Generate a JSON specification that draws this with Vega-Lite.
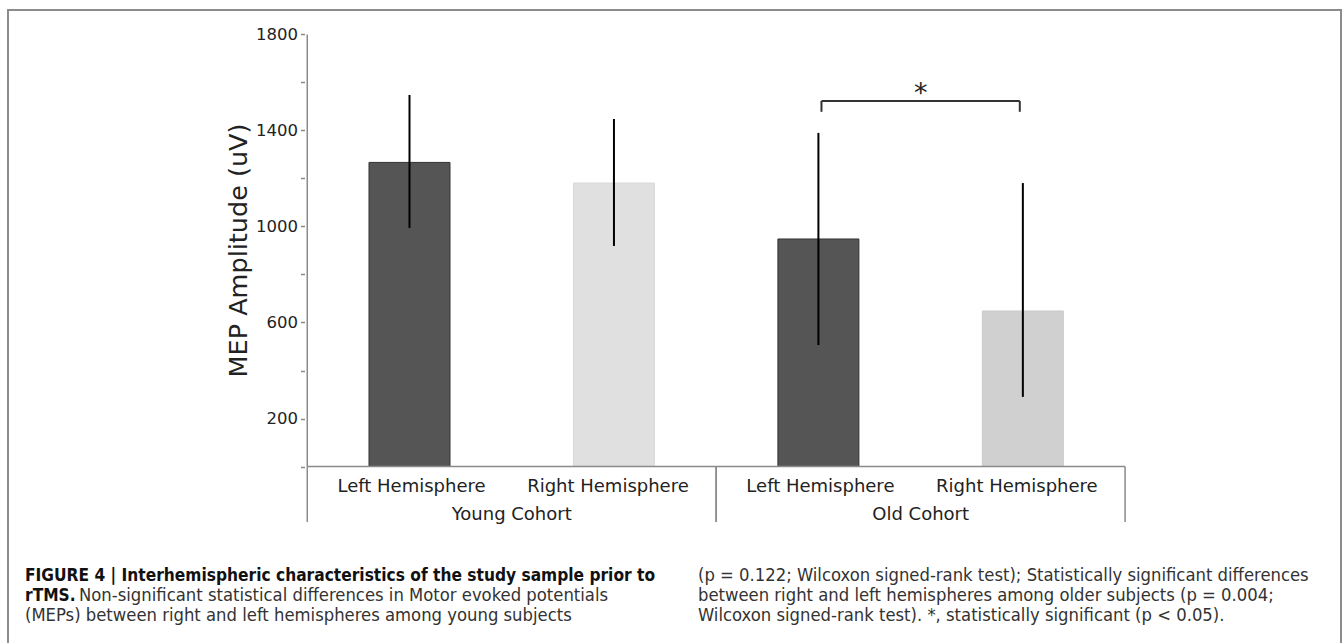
{
  "$schema": "https://vega.github.io/schema/vega-lite/v6.json",
  "width": 1333,
  "height": 640,
  "autosize": {"type": "none"},
  "padding": {"left": 8, "top": 10, "right": 1, "bottom": 0},
  "background": "white",
  "config": {
    "view": {"stroke": "#8c8c8c", "strokeWidth": 2},
    "text": {"font": "DejaVu Sans"}
  },
  "datasets": {
    "bars": [
      {"cohort": "Young Cohort", "hemisphere": "Left Hemisphere", "group": "Young Left", "idx": 1, "mean": 1267, "lo": 994, "hi": 1548},
      {"cohort": "Young Cohort", "hemisphere": "Right Hemisphere", "group": "Young Right", "idx": 2, "mean": 1181, "lo": 919, "hi": 1448},
      {"cohort": "Old Cohort", "hemisphere": "Left Hemisphere", "group": "Old Left", "idx": 3, "mean": 948, "lo": 506, "hi": 1390},
      {"cohort": "Old Cohort", "hemisphere": "Right Hemisphere", "group": "Old Right", "idx": 4, "mean": 648, "lo": 290, "hi": 1181}
    ],
    "groups": [
      {"cohort": "Young Cohort", "start": 0.5, "end": 2.5, "center": 1.5},
      {"cohort": "Old Cohort", "start": 2.5, "end": 4.5, "center": 3.5}
    ],
    "sig": [
      {"from": 3.015, "to": 3.985, "mid": 3.5, "level": 1523, "tick": 1478, "label": "*"}
    ],
    "caption": [
      {"col": 0, "line": 0, "style": "bold", "text": "FIGURE 4 | Interhemispheric characteristics of the study sample prior to"},
      {"col": 0, "line": 1, "style": "bold", "text": "rTMS."},
      {"col": 0, "line": 1, "style": "cont", "text": "Non-significant statistical differences in Motor evoked potentials"},
      {"col": 0, "line": 2, "style": "normal", "text": "(MEPs) between right and left hemispheres among young subjects"},
      {"col": 1, "line": 0, "style": "normal", "text": "(p = 0.122; Wilcoxon signed-rank test); Statistically significant differences"},
      {"col": 1, "line": 1, "style": "normal", "text": "between right and left hemispheres among older subjects (p = 0.004;"},
      {"col": 1, "line": 2, "style": "normal", "text": "Wilcoxon signed-rank test). *, statistically significant (p < 0.05)."}
    ]
  },
  "layer": [
    {
      "layer": [
        {
          "data": {"name": "bars"},
          "mark": {"type": "bar", "size": 81, "strokeWidth": 1},
          "encoding": {
            "x": {"field": "idx", "type": "quantitative", "scale": {"domain": [-0.9393, 5.5316], "nice": false, "zero": false}, "axis": null},
            "y": {
              "field": "mean", "type": "quantitative",
              "scale": {"domain": [-764.58, 1902.08], "nice": false, "zero": false},
              "axis": {
                "orient": "left",
                "offset": -296.5,
                "domain": false,
                "grid": false,
                "values": [0, 200, 400, 600, 800, 1000, 1200, 1400, 1600, 1800],
                "labelExpr": "datum.value % 400 == 200 ? datum.label : ''",
                "format": "d",
                "labelOverlap": false,
                "labelFlush": false,
                "tickSize": 4,
                "tickColor": "#8a8a8a",
                "tickWidth": 1.5,
                "labelPadding": 3,
                "labelFont": "DejaVu Sans",
                "labelFontSize": 16.5,
                "labelColor": "#222222",
                "title": "MEP Amplitude (uV)",
                "titleFont": "DejaVu Sans",
                "titleFontSize": 25.5,
                "titleFontWeight": "normal",
                "titleColor": "#222222",
                "titleAngle": 270,
                "titleAlign": "center",
                "titleBaseline": "middle",
                "titleX": -66,
                "titleY": 240
              }
            },
            "y2": {"datum": 0},
            "fill": {"field": "group", "type": "nominal", "scale": {"domain": ["Young Left", "Young Right", "Old Left", "Old Right"], "range": ["#555555", "#e0e0e0", "#555555", "#d0d0d0"]}, "legend": null},
            "stroke": {"field": "group", "type": "nominal", "scale": {"domain": ["Young Left", "Young Right", "Old Left", "Old Right"], "range": ["#333333", "#d8d8d8", "#333333", "#cacaca"]}, "legend": null}
          }
        },
        {
          "data": {"name": "bars"},
          "mark": {"type": "rule", "color": "#000000", "strokeWidth": 2},
          "encoding": {
            "x": {"field": "idx", "type": "quantitative", "scale": {"domain": [-0.9393, 5.5316], "nice": false, "zero": false}, "axis": null},
            "y": {"field": "lo", "type": "quantitative", "scale": {"domain": [-764.58, 1902.08], "nice": false, "zero": false}},
            "y2": {"field": "hi"}
          }
        },
        {
          "data": {"values": [{}]},
          "mark": {"type": "rule", "color": "#8a8a8a", "strokeWidth": 1.5},
          "encoding": {
            "x": {"datum": 0.5, "type": "quantitative", "scale": {"domain": [-0.9393, 5.5316], "nice": false, "zero": false}, "axis": null},
            "y": {"datum": 1800, "type": "quantitative", "scale": {"domain": [-764.58, 1902.08], "nice": false, "zero": false}},
            "y2": {"datum": 0}
          }
        },
        {
          "data": {"values": [{}]},
          "mark": {"type": "rule", "color": "#8a8a8a", "strokeWidth": 1.5},
          "encoding": {
            "x": {"datum": 0.5, "type": "quantitative", "scale": {"domain": [-0.9393, 5.5316], "nice": false, "zero": false}, "axis": null},
            "x2": {"datum": 4.5},
            "y": {"datum": 0, "type": "quantitative", "scale": {"domain": [-764.58, 1902.08], "nice": false, "zero": false}}
          }
        },
        {
          "data": {"name": "groups"},
          "mark": {"type": "rule", "color": "#8a8a8a", "strokeWidth": 1.5},
          "encoding": {
            "x": {"field": "start", "type": "quantitative", "scale": {"domain": [-0.9393, 5.5316], "nice": false, "zero": false}, "axis": null},
            "y": {"datum": 0, "type": "quantitative", "scale": {"domain": [-764.58, 1902.08], "nice": false, "zero": false}},
            "y2": {"datum": -231}
          }
        },
        {
          "data": {"name": "groups"},
          "mark": {"type": "rule", "color": "#8a8a8a", "strokeWidth": 1.5},
          "encoding": {
            "x": {"field": "end", "type": "quantitative", "scale": {"domain": [-0.9393, 5.5316], "nice": false, "zero": false}, "axis": null},
            "y": {"datum": 0, "type": "quantitative", "scale": {"domain": [-764.58, 1902.08], "nice": false, "zero": false}},
            "y2": {"datum": -231}
          }
        },
        {
          "data": {"name": "bars"},
          "transform": [{"filter": "datum.hemisphere == 'Left Hemisphere'"}],
          "mark": {"type": "text", "align": "center", "baseline": "alphabetic", "dx": 2, "font": "DejaVu Sans", "fontSize": 18, "color": "#222222"},
          "encoding": {
            "x": {"field": "idx", "type": "quantitative", "scale": {"domain": [-0.9393, 5.5316], "nice": false, "zero": false}, "axis": null},
            "y": {"datum": -106.25, "type": "quantitative", "scale": {"domain": [-764.58, 1902.08], "nice": false, "zero": false}},
            "text": {"field": "hemisphere"}
          }
        },
        {
          "data": {"name": "bars"},
          "transform": [{"filter": "datum.hemisphere == 'Right Hemisphere'"}],
          "mark": {"type": "text", "align": "center", "baseline": "alphabetic", "dx": -6, "font": "DejaVu Sans", "fontSize": 18, "color": "#222222"},
          "encoding": {
            "x": {"field": "idx", "type": "quantitative", "scale": {"domain": [-0.9393, 5.5316], "nice": false, "zero": false}, "axis": null},
            "y": {"datum": -106.25, "type": "quantitative", "scale": {"domain": [-764.58, 1902.08], "nice": false, "zero": false}},
            "text": {"field": "hemisphere"}
          }
        },
        {
          "data": {"name": "groups"},
          "mark": {"type": "text", "align": "center", "baseline": "alphabetic", "font": "DejaVu Sans", "fontSize": 18, "color": "#222222"},
          "encoding": {
            "x": {"field": "center", "type": "quantitative", "scale": {"domain": [-0.9393, 5.5316], "nice": false, "zero": false}, "axis": null},
            "y": {"datum": -222.9, "type": "quantitative", "scale": {"domain": [-764.58, 1902.08], "nice": false, "zero": false}},
            "text": {"field": "cohort"}
          }
        },
        {
          "data": {"name": "sig"},
          "mark": {"type": "rule", "color": "#333333", "strokeWidth": 2},
          "encoding": {
            "x": {"field": "from", "type": "quantitative", "scale": {"domain": [-0.9393, 5.5316], "nice": false, "zero": false}, "axis": null},
            "x2": {"field": "to"},
            "y": {"field": "level", "type": "quantitative", "scale": {"domain": [-764.58, 1902.08], "nice": false, "zero": false}}
          }
        },
        {
          "data": {"name": "sig"},
          "mark": {"type": "rule", "color": "#333333", "strokeWidth": 2},
          "encoding": {
            "x": {"field": "from", "type": "quantitative", "scale": {"domain": [-0.9393, 5.5316], "nice": false, "zero": false}, "axis": null},
            "y": {"field": "level", "type": "quantitative", "scale": {"domain": [-764.58, 1902.08], "nice": false, "zero": false}},
            "y2": {"field": "tick"}
          }
        },
        {
          "data": {"name": "sig"},
          "mark": {"type": "rule", "color": "#333333", "strokeWidth": 2},
          "encoding": {
            "x": {"field": "to", "type": "quantitative", "scale": {"domain": [-0.9393, 5.5316], "nice": false, "zero": false}, "axis": null},
            "y": {"field": "level", "type": "quantitative", "scale": {"domain": [-764.58, 1902.08], "nice": false, "zero": false}},
            "y2": {"field": "tick"}
          }
        },
        {
          "data": {"name": "sig"},
          "mark": {"type": "text", "align": "center", "baseline": "alphabetic", "dy": 1, "font": "DejaVu Sans", "fontSize": 27, "color": "#222222"},
          "encoding": {
            "x": {"field": "mid", "type": "quantitative", "scale": {"domain": [-0.9393, 5.5316], "nice": false, "zero": false}, "axis": null},
            "y": {"field": "level", "type": "quantitative", "scale": {"domain": [-764.58, 1902.08], "nice": false, "zero": false}},
            "text": {"field": "label"}
          }
        }
      ]
    },
    {
      "data": {"name": "caption"},
      "encoding": {
        "x": {"field": "col", "type": "quantitative", "scale": {"domain": [-0.02526, 1.9554], "nice": false, "zero": false}, "axis": null},
        "y": {"field": "line", "type": "quantitative", "scale": {"domain": [-28.55, 3.45], "nice": false, "zero": false, "reverse": true}, "axis": null},
        "text": {"field": "text"}
      },
      "layer": [
        {
          "transform": [{"filter": "datum.style == 'bold'"}],
          "mark": {"type": "text", "align": "left", "baseline": "alphabetic", "font": "DejaVu Sans Condensed, DejaVu Sans", "fontSize": 17.2, "fontWeight": "bold", "color": "#111111"}
        },
        {
          "transform": [{"filter": "datum.style == 'normal'"}],
          "mark": {"type": "text", "align": "left", "baseline": "alphabetic", "font": "DejaVu Sans Condensed, DejaVu Sans", "fontSize": 18.3, "color": "#333333"}
        },
        {
          "transform": [{"filter": "datum.style == 'cont'"}],
          "mark": {"type": "text", "align": "left", "baseline": "alphabetic", "dx": 54, "font": "DejaVu Sans Condensed, DejaVu Sans", "fontSize": 18.3, "color": "#333333"}
        }
      ]
    }
  ],
  "resolve": {"scale": {"x": "independent", "y": "independent"}}
}
